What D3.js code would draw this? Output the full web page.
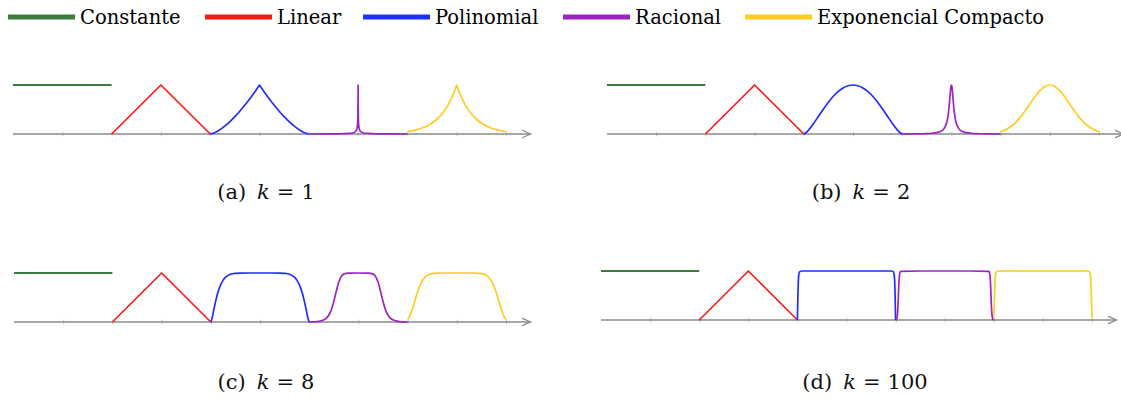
<!DOCTYPE html>
<html>
<head>
<meta charset="utf-8">
<script src="https://cdn.jsdelivr.net/npm/d3@7"></script>
<style>
  body { margin: 0; background: #fff; }
  svg { display: block; }
</style>
</head>
<body>
<div id="chart"></div>
<script>
// series names (legend order) and the k of each sub figure
var seriesNames = ["Constante", "Linear", "Polinomial", "Racional", "Exponencial Compacto"];
var panelTags = ["(a)", "(b)", "(c)", "(d)"];
var kValues = ["1", "2", "8", "100"];

// centre of each function's support on the x axis (support = centre +/- 1)
var segmentCenters = [1, 3, 5, 7, 9];

// half curves: [offset from centre, value], mirrored for x < 0
var constHalf = [[0, 1], [1, 1]];
var linearHalf = [[0, 1], [1, 0]];

var polyHalf = [
  // k = 1
  [[0, 1], [0.01, 0.985], [0.1, 0.854], [0.2, 0.716], [0.3, 0.586], [0.4, 0.465], [0.5, 0.354],
   [0.6, 0.253], [0.7, 0.164], [0.8, 0.089], [0.9, 0.032], [1, 0]],
  // k = 2
  [[0, 1], [0.1, 0.985], [0.2, 0.941], [0.3, 0.868], [0.4, 0.770], [0.5, 0.650], [0.6, 0.512],
   [0.7, 0.364], [0.8, 0.216], [0.9, 0.083], [0.95, 0.030], [1, 0]],
  // k = 8
  [[0, 1], [0.2, 1], [0.4, 0.999], [0.5, 0.994], [0.6, 0.975], [0.7, 0.915], [0.75, 0.854],
   [0.8, 0.759], [0.85, 0.620], [0.9, 0.430], [0.925, 0.316], [0.95, 0.195], [0.975, 0.078],
   [0.99, 0.022], [1, 0]],
  // k = 100
  [[0, 1], [0.5, 1], [0.9, 1], [0.95, 0.991], [0.97, 0.929], [0.98, 0.808], [0.99, 0.505],
   [0.995, 0.247], [1, 0]]
];

var ratHalf = [
  [[0, 1], [0.0005, 0.849], [0.001, 0.738], [0.002, 0.584], [0.004, 0.412], [0.007, 0.286],
   [0.01, 0.218], [0.02, 0.121], [0.05, 0.051], [0.1, 0.025], [0.2, 0.011], [0.4, 0.004],
   [0.7, 0.001], [1, 0]],
  [[0, 1], [0.01, 0.966], [0.02, 0.876], [0.03, 0.758], [0.04, 0.637], [0.05, 0.529],
   [0.06, 0.438], [0.08, 0.304], [0.1, 0.218], [0.15, 0.109], [0.2, 0.063], [0.3, 0.028],
   [0.4, 0.015], [0.5, 0.008], [0.6, 0.005], [0.8, 0.002], [1, 0]],
  [[0, 1], [0.2, 0.999], [0.3, 0.977], [0.35, 0.926], [0.4, 0.811], [0.45, 0.626], [0.5, 0.418],
   [0.55, 0.250], [0.6, 0.142], [0.65, 0.079], [0.7, 0.044], [0.8, 0.014], [0.9, 0.004], [1, 0]],
  [[0, 1], [0.5, 1], [0.9, 0.991], [0.92, 0.922], [0.93, 0.800], [0.94, 0.578], [0.95, 0.322],
   [0.96, 0.141], [0.97, 0.053], [0.98, 0.018], [0.99, 0.005], [1, 0]]
];

var expHalf = [
  [[0, 1], [0.01, 0.970], [0.1, 0.741], [0.2, 0.549], [0.3, 0.407], [0.4, 0.301], [0.5, 0.223],
   [0.6, 0.165], [0.7, 0.122], [0.8, 0.091], [0.9, 0.067], [1, 0.050]],
  [[0, 1], [0.1, 0.970], [0.2, 0.887], [0.3, 0.763], [0.4, 0.619], [0.5, 0.472], [0.6, 0.340],
   [0.7, 0.229], [0.8, 0.147], [0.9, 0.088], [1, 0.050]],
  [[0, 1], [0.3, 1], [0.4, 0.998], [0.5, 0.988], [0.6, 0.951], [0.65, 0.909], [0.7, 0.841],
   [0.75, 0.741], [0.8, 0.605], [0.85, 0.441], [0.9, 0.275], [0.95, 0.137], [1, 0.050]],
  [[0, 1], [0.5, 1], [0.9, 1], [0.95, 0.982], [0.96, 0.951], [0.97, 0.867], [0.98, 0.672],
   [0.99, 0.333], [1, 0.050]]
];

var colors = ["#3d7a3d", "#ff1a1a", "#1f2fff", "#9d24c4", "#ffcb22"];

var W = 1121, H = 401;
var svg = d3.select("#chart").append("svg")
  .attr("width", W).attr("height", H)
  .style("font-family", "'DejaVu Serif', serif");

svg.append("defs").append("marker")
  .attr("id", "arrow")
  .attr("viewBox", "0 0 10 10")
  .attr("refX", 9).attr("refY", 5)
  .attr("markerWidth", 10).attr("markerHeight", 10)
  .attr("markerUnits", "userSpaceOnUse")
  .attr("orient", "auto")
  .append("path")
  .attr("d", "M0,1 L9,5 L0,9")
  .attr("fill", "none")
  .attr("stroke", "#888")
  .attr("stroke-width", 1.3);

// legend
var legendX = [8, 205, 363, 563, 745];
var legend = svg.append("g");
seriesNames.forEach(function(name, i){
  legend.append("line")
    .attr("x1", legendX[i]).attr("x2", legendX[i] + 67)
    .attr("y1", 17).attr("y2", 17)
    .attr("stroke", colors[i]).attr("stroke-width", 5);
  legend.append("text")
    .attr("x", legendX[i] + 72).attr("y", 23.5)
    .attr("font-size", 19.5)
    .attr("textLength", null)
    .attr("fill", "#000")
    .text(name);
});

// panel layout
var panelX0 = [13, 607, 14, 601];
var panelUnit = [49.3, 49.2, 49.2, 49.1];
var panelBase = [134, 134, 322, 320];
var captionX = [266, 861, 266, 865];
var captionY = [199, 199, 389, 389];

function mirror(half){
  var left = half.slice(1).reverse().map(function(p){ return [-p[0], p[1]]; });
  return left.concat(half);
}

panelTags.forEach(function(tag, pi){
  var x = d3.scaleLinear().domain([0, 10]).range([panelX0[pi], panelX0[pi] + 10 * panelUnit[pi]]);
  var y = d3.scaleLinear().domain([0, 1]).range([panelBase[pi], panelBase[pi] - 49]);
  var g = svg.append("g");

  // ticks
  var ax = g.append("g")
    .attr("transform", "translate(0," + panelBase[pi] + ")")
    .call(d3.axisBottom(x).tickValues(d3.range(1, 11)).tickFormat("").tickSizeOuter(0));
  ax.select(".domain").remove();
  ax.selectAll(".tick line")
    .attr("y1", -2.5).attr("y2", 2.5)
    .attr("stroke", "#c8c8c8");

  // axis line with arrow
  g.append("line")
    .attr("x1", x(0)).attr("x2", x(10.5))
    .attr("y1", panelBase[pi]).attr("y2", panelBase[pi])
    .attr("stroke", "#8a8a8a").attr("stroke-width", 1.4)
    .attr("marker-end", "url(#arrow)");

  var halves = [constHalf, linearHalf, polyHalf[pi], ratHalf[pi], expHalf[pi]];
  halves.forEach(function(half, si){
    var c = segmentCenters[si];
    var pts = mirror(half).map(function(p){ return [c + p[0], p[1]]; });
    var line = d3.line()
      .x(function(d){ return x(d[0]); })
      .y(function(d){ return y(d[1]); })
      .curve(si < 2 ? d3.curveLinear : d3.curveMonotoneX);
    g.append("path")
      .datum(pts)
      .attr("d", line)
      .attr("fill", "none")
      .attr("stroke", colors[si])
      .attr("stroke-width", si === 0 ? 2 : 1.7)
      .attr("stroke-linejoin", "round");
  });

  // caption
  var t = svg.append("text")
    .attr("x", captionX[pi]).attr("y", captionY[pi])
    .attr("text-anchor", "middle")
    .attr("font-size", 21)
    .attr("fill", "#111");
  t.append("tspan").text(tag);
  t.append("tspan").attr("dx", 11).attr("font-style", "italic").text("k");
  t.append("tspan").attr("dx", 7).text("=");
  t.append("tspan").attr("dx", 7).text(kValues[pi]);
});
</script>
</body>
</html>
